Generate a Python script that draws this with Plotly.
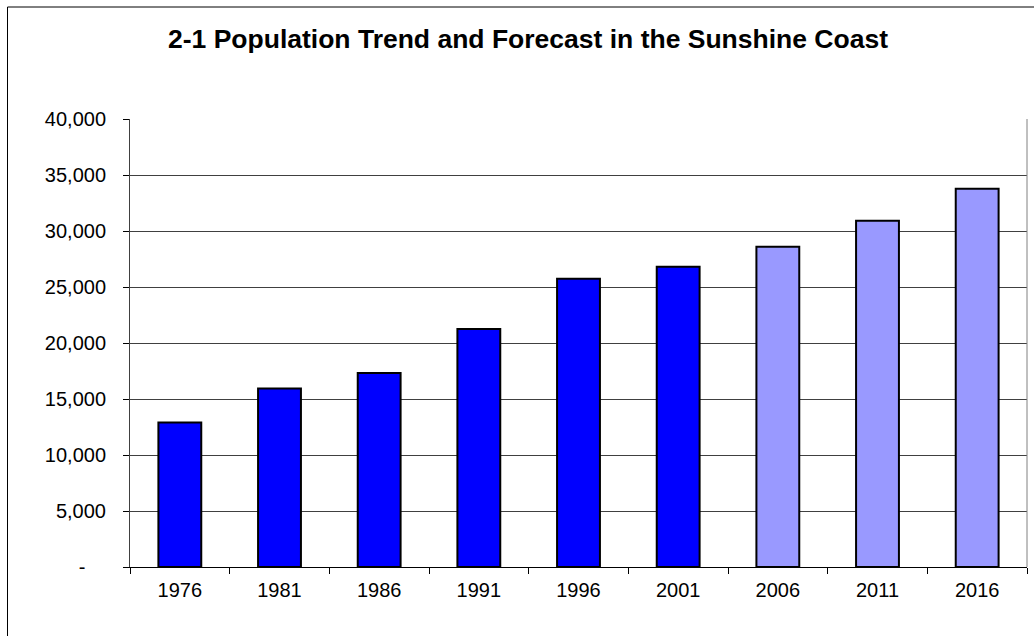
import plotly.graph_objects as go

# Census years and forecast years
years = ["1976", "1981", "1986", "1991", "1996", "2001", "2006", "2011", "2016"]
population = [12900, 15930, 17330, 21260, 25740, 26800, 28590, 30910, 33770]
is_forecast = [False, False, False, False, False, False, True, True, True]

y_tick_vals = [0, 5000, 10000, 15000, 20000, 25000, 30000, 35000, 40000]
y_tick_text = ["-\u00a0\u00a0\u00a0\u2009", "5,000", "10,000", "15,000", "20,000",
               "25,000", "30,000", "35,000", "40,000"]

title_text = "2-1 Population Trend and Forecast in the Sunshine Coast"

W, H = 1034, 636
ML, MR, MT, MB = 130, 7, 119, 69
FONT = "Arial, Liberation Sans, sans-serif"

bar_colors = ["#9999FF" if f else "#0000FF" for f in is_forecast]

fig = go.Figure(
    go.Bar(
        x=years,
        y=population,
        marker=dict(color=bar_colors, line=dict(color="black", width=2)),
        hoverinfo="x+y",
    )
)

pw = W - ML - MR
ph = H - MT - MB

# Outer chart frame (runs past the right and bottom edges)
fig.add_shape(
    type="rect", xref="paper", yref="paper", layer="below",
    x0=(7.5 - ML) / pw, x1=(W + 40 - ML) / pw,
    y0=(H - MB - (H + 30)) / ph, y1=(H - MB - 7) / ph,
    line=dict(color="black", width=1), fillcolor="rgba(0,0,0,0)",
)

fig.update_layout(
    width=W, height=H,
    margin=dict(l=ML, r=MR, t=MT, b=MB, pad=0),
    paper_bgcolor="white", plot_bgcolor="white",
    bargap=0.57,
    showlegend=False,
    font=dict(family=FONT, color="black", size=20),
    title=dict(
        text="<b>" + title_text + "</b>",
        xref="container", x=528 / W, xanchor="center",
        yref="container", y=1 - 39 / H, yanchor="middle",
        font=dict(family=FONT, size=26.5, color="black"),
    ),
)

fig.update_xaxes(
    type="category",
    showgrid=False,
    showline=True, linecolor="black", linewidth=1,
    mirror=False,
    ticks="outside", ticklen=6, tickcolor="black", tickwidth=1,
    tickson="boundaries",
    ticklabelstandoff=5,
    tickfont=dict(family=FONT, size=20, color="black"),
)

fig.update_yaxes(
    range=[0, 40000],
    tickvals=y_tick_vals, ticktext=y_tick_text,
    showgrid=True, gridcolor="#404040", gridwidth=1,
    showline=True, linecolor="#404040", linewidth=1,
    zeroline=False,
    ticks="outside", ticklen=6, tickcolor="black", tickwidth=1,
    ticklabelstandoff=13,
    tickfont=dict(family=FONT, size=20, color="black"),
)

# Right edge of the plot area
fig.add_shape(
    type="line", xref="paper", yref="paper",
    x0=1, x1=1, y0=0, y1=1,
    line=dict(color="#808080", width=1),
)

fig.write_html("out.html")
